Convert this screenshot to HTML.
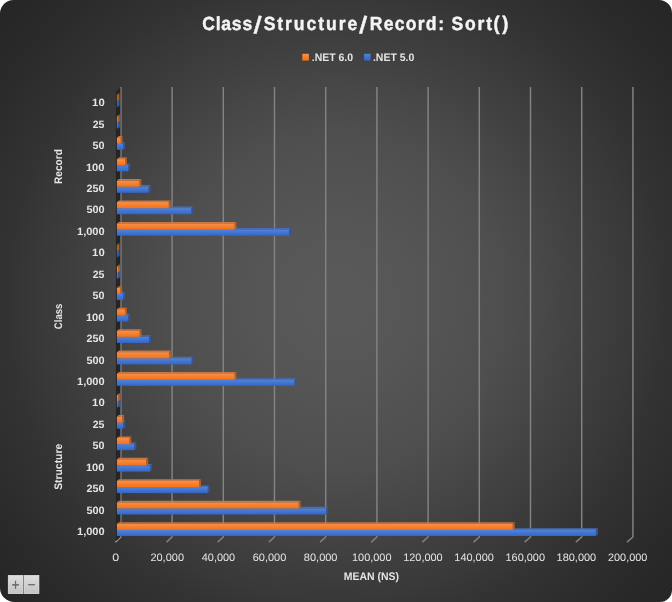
<!DOCTYPE html>
<html lang="en"><head><meta charset="utf-8"><title>Class/Structure/Record: Sort()</title>
<style>html,body{margin:0;padding:0;background:#fff;}body{width:672px;height:602px;overflow:hidden;}svg{display:block;}text{font-family:"Liberation Sans",sans-serif;text-rendering:geometricPrecision;}</style>
</head><body>
<svg width="672" height="602" viewBox="0 0 672 602">
<defs>
<radialGradient id="bg" gradientUnits="userSpaceOnUse" cx="336" cy="301" r="451">
<stop offset="0" stop-color="#595959"/>
<stop offset="0.09" stop-color="#585858"/>
<stop offset="0.18" stop-color="#565656"/>
<stop offset="0.25" stop-color="#535353"/>
<stop offset="0.33" stop-color="#505050"/>
<stop offset="0.38" stop-color="#4e4e4e"/>
<stop offset="0.42" stop-color="#4b4b4b"/>
<stop offset="0.5" stop-color="#454545"/>
<stop offset="0.59" stop-color="#3e3e3e"/>
<stop offset="0.66" stop-color="#393939"/>
<stop offset="0.73" stop-color="#333333"/>
<stop offset="0.8" stop-color="#2f2f2f"/>
<stop offset="0.86" stop-color="#2b2b2b"/>
<stop offset="0.96" stop-color="#272727"/>
<stop offset="1" stop-color="#262626"/>
</radialGradient>
<linearGradient id="of" x1="0" y1="0" x2="0" y2="1"><stop offset="0" stop-color="#f98f4b"/><stop offset="0.5" stop-color="#f6802e"/><stop offset="1" stop-color="#f47216"/></linearGradient>
<linearGradient id="bf" x1="0" y1="0" x2="0" y2="1"><stop offset="0" stop-color="#5284da"/><stop offset="0.5" stop-color="#4274d0"/><stop offset="1" stop-color="#3466c6"/></linearGradient>
<linearGradient id="os" x1="0" y1="0" x2="0" y2="1"><stop offset="0" stop-color="#a8561a"/><stop offset="1" stop-color="#cc651a"/></linearGradient>
<linearGradient id="bs" x1="0" y1="0" x2="0" y2="1"><stop offset="0" stop-color="#2f55a0"/><stop offset="1" stop-color="#2f58a8"/></linearGradient>
<linearGradient id="btn" x1="0" y1="0" x2="0" y2="1"><stop offset="0" stop-color="#dedede"/><stop offset="1" stop-color="#c3c3c3"/></linearGradient>
</defs>
<rect x="0" y="0" width="672" height="602" fill="#ffffff"/>
<path d="M13.5 0H659A13 13 0 0 1 672 13V590A12 12 0 0 1 660 602H14.2A14.2 14.2 0 0 1 0 587.8V13.5A13.5 13.5 0 0 1 13.5 0Z" fill="url(#bg)"/>
<g fill="none" stroke="#838383" stroke-width="1.45" stroke-linejoin="round">
<path d="M120.9 87.0V537.0"/>
<path d="M120.9 537.0L115.4 542.1" stroke="#9a9a9a"/>
<path d="M172.1 87.0V537.0L166.56 542.1"/>
<path d="M223.3 87.0V537.0L217.72 542.1"/>
<path d="M274.5 87.0V537.0L268.88 542.1"/>
<path d="M325.7 87.0V537.0L320.04 542.1"/>
<path d="M376.9 87.0V537.0L371.2 542.1"/>
<path d="M428.1 87.0V537.0L422.36 542.1"/>
<path d="M479.3 87.0V537.0L473.52 542.1"/>
<path d="M530.5 87.0V537.0L524.68 542.1"/>
<path d="M581.7 87.0V537.0L575.84 542.1"/>
<path d="M632.9 87.0V537.0L627 542.1"/>
</g>
<path d="M115.9 91.6L120.3 87.6V536.9L115.9 541.2Z" fill="#252525"/>
<g>
<path d="M116.9 100.9L118.9 99.3H119.6L117.6 100.9Z" fill="#4a6cb2"/><path d="M117.6 100.9L119.6 99.3V105.4L117.6 107Z" fill="url(#bs)"/><rect x="116.9" y="100.9" width="0.7" height="6.1" fill="url(#bf)"/>
<path d="M116.9 94.8L118.9 93.2H119.4L117.4 94.8Z" fill="#c87643"/><path d="M117.4 94.8L119.4 93.2V99.3L117.4 100.9Z" fill="url(#os)"/><rect x="116.9" y="94.8" width="0.5" height="6.1" fill="url(#of)"/>
<path d="M116.9 122.35L118.9 120.75H120L118 122.35Z" fill="#4a6cb2"/><path d="M118 122.35L120 120.75V126.85L118 128.45Z" fill="url(#bs)"/><rect x="116.9" y="122.35" width="1.1" height="6.1" fill="url(#bf)"/>
<path d="M116.9 116.25L118.9 114.65H119.8L117.8 116.25Z" fill="#c87643"/><path d="M117.8 116.25L119.8 114.65V120.75L117.8 122.35Z" fill="url(#os)"/><rect x="116.9" y="116.25" width="0.9" height="6.1" fill="url(#of)"/>
<path d="M116.9 143.8L118.9 142.2H125.1L123.1 143.8Z" fill="#4a6cb2"/><path d="M123.1 143.8L125.1 142.2V148.3L123.1 149.9Z" fill="url(#bs)"/><rect x="116.9" y="143.8" width="6.2" height="6.1" fill="url(#bf)"/>
<path d="M116.9 137.7L118.9 136.1H122.6L120.6 137.7Z" fill="#c87643"/><path d="M120.6 137.7L122.6 136.1V142.2L120.6 143.8Z" fill="url(#os)"/><rect x="116.9" y="137.7" width="3.7" height="6.1" fill="url(#of)"/>
<path d="M116.9 165.25L118.9 163.65H130.1L128.1 165.25Z" fill="#4a6cb2"/><path d="M128.1 165.25L130.1 163.65V169.75L128.1 171.35Z" fill="url(#bs)"/><rect x="116.9" y="165.25" width="11.2" height="6.1" fill="url(#bf)"/>
<path d="M116.9 159.15L118.9 157.55H127L125 159.15Z" fill="#c87643"/><path d="M125 159.15L127 157.55V163.65L125 165.25Z" fill="url(#os)"/><rect x="116.9" y="159.15" width="8.1" height="6.1" fill="url(#of)"/>
<path d="M116.9 186.7L118.9 185.1H150.6L148.6 186.7Z" fill="#4a6cb2"/><path d="M148.6 186.7L150.6 185.1V191.2L148.6 192.8Z" fill="url(#bs)"/><rect x="116.9" y="186.7" width="31.7" height="6.1" fill="url(#bf)"/>
<path d="M116.9 180.6L118.9 179H141.4L139.4 180.6Z" fill="#c87643"/><path d="M139.4 180.6L141.4 179V185.1L139.4 186.7Z" fill="url(#os)"/><rect x="116.9" y="180.6" width="22.5" height="6.1" fill="url(#of)"/>
<path d="M116.9 208.15L118.9 206.55H193.25L191.25 208.15Z" fill="#4a6cb2"/><path d="M191.25 208.15L193.25 206.55V212.65L191.25 214.25Z" fill="url(#bs)"/><rect x="116.9" y="208.15" width="74.35" height="6.1" fill="url(#bf)"/>
<path d="M116.9 202.05L118.9 200.45H170.75L168.75 202.05Z" fill="#c87643"/><path d="M168.75 202.05L170.75 200.45V206.55L168.75 208.15Z" fill="url(#os)"/><rect x="116.9" y="202.05" width="51.85" height="6.1" fill="url(#of)"/>
<path d="M116.9 229.6L118.9 228H291L289 229.6Z" fill="#4a6cb2"/><path d="M289 229.6L291 228V234.1L289 235.7Z" fill="url(#bs)"/><rect x="116.9" y="229.6" width="172.1" height="6.1" fill="url(#bf)"/>
<path d="M116.9 223.5L118.9 221.9H236.6L234.6 223.5Z" fill="#c87643"/><path d="M234.6 223.5L236.6 221.9V228L234.6 229.6Z" fill="url(#os)"/><rect x="116.9" y="223.5" width="117.7" height="6.1" fill="url(#of)"/>
<path d="M116.9 251.05L118.9 249.45H119.6L117.6 251.05Z" fill="#4a6cb2"/><path d="M117.6 251.05L119.6 249.45V255.55L117.6 257.15Z" fill="url(#bs)"/><rect x="116.9" y="251.05" width="0.7" height="6.1" fill="url(#bf)"/>
<path d="M116.9 244.95L118.9 243.35H119.4L117.4 244.95Z" fill="#c87643"/><path d="M117.4 244.95L119.4 243.35V249.45L117.4 251.05Z" fill="url(#os)"/><rect x="116.9" y="244.95" width="0.5" height="6.1" fill="url(#of)"/>
<path d="M116.9 272.5L118.9 270.9H120.25L118.25 272.5Z" fill="#4a6cb2"/><path d="M118.25 272.5L120.25 270.9V277L118.25 278.6Z" fill="url(#bs)"/><rect x="116.9" y="272.5" width="1.35" height="6.1" fill="url(#bf)"/>
<path d="M116.9 266.4L118.9 264.8H120L118 266.4Z" fill="#c87643"/><path d="M118 266.4L120 264.8V270.9L118 272.5Z" fill="url(#os)"/><rect x="116.9" y="266.4" width="1.1" height="6.1" fill="url(#of)"/>
<path d="M116.9 293.95L118.9 292.35H125.1L123.1 293.95Z" fill="#4a6cb2"/><path d="M123.1 293.95L125.1 292.35V298.45L123.1 300.05Z" fill="url(#bs)"/><rect x="116.9" y="293.95" width="6.2" height="6.1" fill="url(#bf)"/>
<path d="M116.9 287.85L118.9 286.25H122.2L120.2 287.85Z" fill="#c87643"/><path d="M120.2 287.85L122.2 286.25V292.35L120.2 293.95Z" fill="url(#os)"/><rect x="116.9" y="287.85" width="3.3" height="6.1" fill="url(#of)"/>
<path d="M116.9 315.4L118.9 313.8H129.9L127.9 315.4Z" fill="#4a6cb2"/><path d="M127.9 315.4L129.9 313.8V319.9L127.9 321.5Z" fill="url(#bs)"/><rect x="116.9" y="315.4" width="11" height="6.1" fill="url(#bf)"/>
<path d="M116.9 309.3L118.9 307.7H127L125 309.3Z" fill="#c87643"/><path d="M125 309.3L127 307.7V313.8L125 315.4Z" fill="url(#os)"/><rect x="116.9" y="309.3" width="8.1" height="6.1" fill="url(#of)"/>
<path d="M116.9 336.85L118.9 335.25H151L149 336.85Z" fill="#4a6cb2"/><path d="M149 336.85L151 335.25V341.35L149 342.95Z" fill="url(#bs)"/><rect x="116.9" y="336.85" width="32.1" height="6.1" fill="url(#bf)"/>
<path d="M116.9 330.75L118.9 329.15H141.6L139.6 330.75Z" fill="#c87643"/><path d="M139.6 330.75L141.6 329.15V335.25L139.6 336.85Z" fill="url(#os)"/><rect x="116.9" y="330.75" width="22.7" height="6.1" fill="url(#of)"/>
<path d="M116.9 358.3L118.9 356.7H193.5L191.5 358.3Z" fill="#4a6cb2"/><path d="M191.5 358.3L193.5 356.7V362.8L191.5 364.4Z" fill="url(#bs)"/><rect x="116.9" y="358.3" width="74.6" height="6.1" fill="url(#bf)"/>
<path d="M116.9 352.2L118.9 350.6H171L169 352.2Z" fill="#c87643"/><path d="M169 352.2L171 350.6V356.7L169 358.3Z" fill="url(#os)"/><rect x="116.9" y="352.2" width="52.1" height="6.1" fill="url(#of)"/>
<path d="M116.9 379.75L118.9 378.15H296.4L294.4 379.75Z" fill="#4a6cb2"/><path d="M294.4 379.75L296.4 378.15V384.25L294.4 385.85Z" fill="url(#bs)"/><rect x="116.9" y="379.75" width="177.5" height="6.1" fill="url(#bf)"/>
<path d="M116.9 373.65L118.9 372.05H236.6L234.6 373.65Z" fill="#c87643"/><path d="M234.6 373.65L236.6 372.05V378.15L234.6 379.75Z" fill="url(#os)"/><rect x="116.9" y="373.65" width="117.7" height="6.1" fill="url(#of)"/>
<path d="M116.9 401.2L118.9 399.6H120.5L118.5 401.2Z" fill="#4a6cb2"/><path d="M118.5 401.2L120.5 399.6V405.7L118.5 407.3Z" fill="url(#bs)"/><rect x="116.9" y="401.2" width="1.6" height="6.1" fill="url(#bf)"/>
<path d="M116.9 395.1L118.9 393.5H120.3L118.3 395.1Z" fill="#c87643"/><path d="M118.3 395.1L120.3 393.5V399.6L118.3 401.2Z" fill="url(#os)"/><rect x="116.9" y="395.1" width="1.4" height="6.1" fill="url(#of)"/>
<path d="M116.9 422.65L118.9 421.05H125.1L123.1 422.65Z" fill="#4a6cb2"/><path d="M123.1 422.65L125.1 421.05V427.15L123.1 428.75Z" fill="url(#bs)"/><rect x="116.9" y="422.65" width="6.2" height="6.1" fill="url(#bf)"/>
<path d="M116.9 416.55L118.9 414.95H124.25L122.25 416.55Z" fill="#c87643"/><path d="M122.25 416.55L124.25 414.95V421.05L122.25 422.65Z" fill="url(#os)"/><rect x="116.9" y="416.55" width="5.35" height="6.1" fill="url(#of)"/>
<path d="M116.9 444.1L118.9 442.5H136.4L134.4 444.1Z" fill="#4a6cb2"/><path d="M134.4 444.1L136.4 442.5V448.6L134.4 450.2Z" fill="url(#bs)"/><rect x="116.9" y="444.1" width="17.5" height="6.1" fill="url(#bf)"/>
<path d="M116.9 438L118.9 436.4H131.4L129.4 438Z" fill="#c87643"/><path d="M129.4 438L131.4 436.4V442.5L129.4 444.1Z" fill="url(#os)"/><rect x="116.9" y="438" width="12.5" height="6.1" fill="url(#of)"/>
<path d="M116.9 465.55L118.9 463.95H152L150 465.55Z" fill="#4a6cb2"/><path d="M150 465.55L152 463.95V470.05L150 471.65Z" fill="url(#bs)"/><rect x="116.9" y="465.55" width="33.1" height="6.1" fill="url(#bf)"/>
<path d="M116.9 459.45L118.9 457.85H148.25L146.25 459.45Z" fill="#c87643"/><path d="M146.25 459.45L148.25 457.85V463.95L146.25 465.55Z" fill="url(#os)"/><rect x="116.9" y="459.45" width="29.35" height="6.1" fill="url(#of)"/>
<path d="M116.9 487L118.9 485.4H209.75L207.75 487Z" fill="#4a6cb2"/><path d="M207.75 487L209.75 485.4V491.5L207.75 493.1Z" fill="url(#bs)"/><rect x="116.9" y="487" width="90.85" height="6.1" fill="url(#bf)"/>
<path d="M116.9 480.9L118.9 479.3H201L199 480.9Z" fill="#c87643"/><path d="M199 480.9L201 479.3V485.4L199 487Z" fill="url(#os)"/><rect x="116.9" y="480.9" width="82.1" height="6.1" fill="url(#of)"/>
<path d="M116.9 508.45L118.9 506.85H328L326 508.45Z" fill="#4a6cb2"/><path d="M326 508.45L328 506.85V512.95L326 514.55Z" fill="url(#bs)"/><rect x="116.9" y="508.45" width="209.1" height="6.1" fill="url(#bf)"/>
<path d="M116.9 502.35L118.9 500.75H300.75L298.75 502.35Z" fill="#c87643"/><path d="M298.75 502.35L300.75 500.75V506.85L298.75 508.45Z" fill="url(#os)"/><rect x="116.9" y="502.35" width="181.85" height="6.1" fill="url(#of)"/>
<path d="M116.9 529.9L118.9 528.3H597.9L595.9 529.9Z" fill="#4a6cb2"/><path d="M595.9 529.9L597.9 528.3V534.4L595.9 536Z" fill="url(#bs)"/><rect x="116.9" y="529.9" width="479" height="6.1" fill="url(#bf)"/>
<path d="M116.9 523.8L118.9 522.2H514.75L512.75 523.8Z" fill="#c87643"/><path d="M512.75 523.8L514.75 522.2V528.3L512.75 529.9Z" fill="url(#os)"/><rect x="116.9" y="523.8" width="395.85" height="6.1" fill="url(#of)"/>
</g>
<g font-size="10.6" font-weight="bold" fill="#e5e5e5">
<text x="92.1" y="106.2" textLength="12.58" lengthAdjust="spacingAndGlyphs">10</text>
<text x="92.65" y="127.65" textLength="11.79" lengthAdjust="spacingAndGlyphs">25</text>
<text x="92.6" y="149.09" textLength="12.01" lengthAdjust="spacingAndGlyphs">50</text>
<text x="85.95" y="170.54" textLength="18.55" lengthAdjust="spacingAndGlyphs">100</text>
<text x="86.5" y="191.98" textLength="18.05" lengthAdjust="spacingAndGlyphs">250</text>
<text x="86.45" y="213.43" textLength="18.26" lengthAdjust="spacingAndGlyphs">500</text>
<text x="77" y="234.87" textLength="27.68" lengthAdjust="spacingAndGlyphs">1,000</text>
<text x="92.1" y="256.31" textLength="12.58" lengthAdjust="spacingAndGlyphs">10</text>
<text x="92.65" y="277.76" textLength="11.79" lengthAdjust="spacingAndGlyphs">25</text>
<text x="92.6" y="299.2" textLength="12.01" lengthAdjust="spacingAndGlyphs">50</text>
<text x="85.95" y="320.65" textLength="18.55" lengthAdjust="spacingAndGlyphs">100</text>
<text x="86.5" y="342.1" textLength="18.05" lengthAdjust="spacingAndGlyphs">250</text>
<text x="86.45" y="363.54" textLength="18.26" lengthAdjust="spacingAndGlyphs">500</text>
<text x="77" y="384.99" textLength="27.68" lengthAdjust="spacingAndGlyphs">1,000</text>
<text x="92.1" y="406.43" textLength="12.58" lengthAdjust="spacingAndGlyphs">10</text>
<text x="92.65" y="427.88" textLength="11.79" lengthAdjust="spacingAndGlyphs">25</text>
<text x="92.6" y="449.32" textLength="12.01" lengthAdjust="spacingAndGlyphs">50</text>
<text x="85.95" y="470.76" textLength="18.55" lengthAdjust="spacingAndGlyphs">100</text>
<text x="86.5" y="492.21" textLength="18.05" lengthAdjust="spacingAndGlyphs">250</text>
<text x="86.45" y="513.65" textLength="18.26" lengthAdjust="spacingAndGlyphs">500</text>
<text x="77" y="535.1" textLength="27.68" lengthAdjust="spacingAndGlyphs">1,000</text>
<text transform="translate(62.0 183.2) rotate(-90)" x="-0.75" y="0" font-size="10.9" textLength="34.79" lengthAdjust="spacingAndGlyphs">Record</text>
<text transform="translate(62.0 328.9) rotate(-90)" x="-0.25" y="0" font-size="10.9" textLength="25.43" lengthAdjust="spacingAndGlyphs">Class</text>
<text transform="translate(62.0 489.6) rotate(-90)" x="-0.25" y="0" font-size="10.9" textLength="46.07" lengthAdjust="spacingAndGlyphs">Structure</text>
</g>
<g font-size="10.8" fill="#e5e5e5">
<text x="112.2" y="560.8" textLength="6.92" lengthAdjust="spacingAndGlyphs">0</text>
<text x="150.41" y="560.8" textLength="33.6" lengthAdjust="spacingAndGlyphs">20,000</text>
<text x="201.82" y="560.8" textLength="33.34" lengthAdjust="spacingAndGlyphs">40,000</text>
<text x="252.73" y="560.8" textLength="33.6" lengthAdjust="spacingAndGlyphs">60,000</text>
<text x="303.89" y="560.8" textLength="33.6" lengthAdjust="spacingAndGlyphs">80,000</text>
<text x="352" y="560.8" textLength="39.51" lengthAdjust="spacingAndGlyphs">100,000</text>
<text x="403.16" y="560.8" textLength="39.51" lengthAdjust="spacingAndGlyphs">120,000</text>
<text x="454.32" y="560.8" textLength="39.51" lengthAdjust="spacingAndGlyphs">140,000</text>
<text x="505.48" y="560.8" textLength="39.51" lengthAdjust="spacingAndGlyphs">160,000</text>
<text x="556.64" y="560.8" textLength="39.51" lengthAdjust="spacingAndGlyphs">180,000</text>
<text x="608.05" y="560.8" textLength="39.25" lengthAdjust="spacingAndGlyphs">200,000</text>
</g>
<text x="343.85" y="579.7" font-size="11.1" font-weight="bold" fill="#e5e5e5" textLength="55.25" lengthAdjust="spacingAndGlyphs">MEAN (NS)</text>
<rect x="302.3" y="53.8" width="6.6" height="6.8" fill="url(#of)"/>
<rect x="364.1" y="53.8" width="6.4" height="6.8" fill="url(#bf)"/>
<text x="311.75" y="60.7" font-size="10.9" font-weight="bold" fill="#e5e5e5" textLength="41.36" lengthAdjust="spacingAndGlyphs">.NET 6.0</text>
<text x="372.95" y="60.7" font-size="10.9" font-weight="bold" fill="#e5e5e5" textLength="41.36" lengthAdjust="spacingAndGlyphs">.NET 5.0</text>
<text transform="scale(0.93 1)" font-size="18.9" font-weight="bold" fill="#f4f4f4" stroke="#f4f4f4" stroke-width="0.45" stroke-linejoin="round"><tspan x="217.42" y="30" textLength="53.75" lengthAdjust="spacing">Class</tspan><tspan x="272.52" y="33" font-size="24.5" rotate="7">/</tspan><tspan x="283.48" y="30" textLength="100.62" lengthAdjust="spacing">Structure</tspan><tspan x="386.15" y="33" font-size="24.5" rotate="7">/</tspan><tspan x="397.68" y="30" textLength="71.79" lengthAdjust="spacing">Record</tspan><tspan x="471.35" y="30">: </tspan><tspan x="485.41" y="30" textLength="43.72" lengthAdjust="spacing">Sort</tspan><tspan x="530.68" y="30" font-size="19.6">(</tspan><tspan x="540.14" y="30" font-size="19.6">)</tspan></text>
<rect x="7.4" y="574.7" width="32.4" height="19.4" fill="#1c1c1c" opacity="0.6"/>
<rect x="8.3" y="575.6" width="14.6" height="17.8" fill="url(#btn)" stroke="#e8e8e8" stroke-width="0.8"/>
<rect x="24.1" y="575.6" width="14.8" height="17.8" fill="url(#btn)" stroke="#e8e8e8" stroke-width="0.8"/>
<rect x="23.0" y="575.2" width="0.9" height="18.6" fill="#858585"/>
<text transform="translate(15.5 585.4) scale(1 1.2)" x="0" y="3.7" font-size="13" fill="#666" stroke="#666" stroke-width="0.25" text-anchor="middle">+</text>
<text x="31.5" y="589.2" font-size="13" fill="#666" stroke="#666" stroke-width="0.4" text-anchor="middle">−</text>
</svg>
</body></html>
